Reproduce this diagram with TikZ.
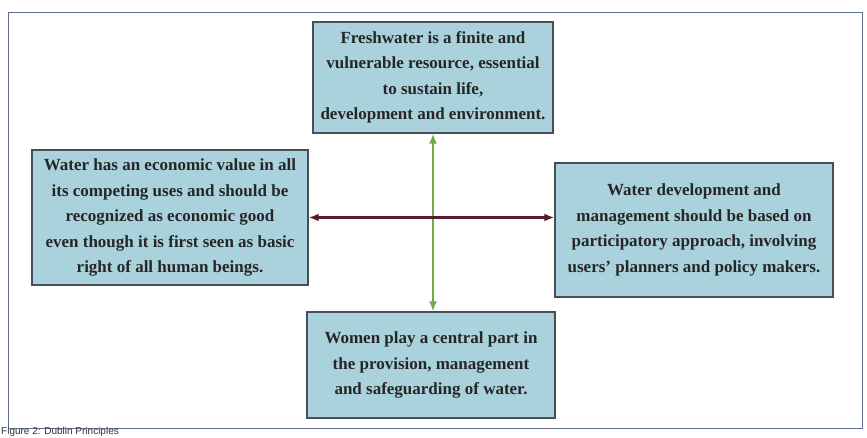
\documentclass[tikz,border=0pt]{standalone}
\usepackage{fontspec}
\setmainfont{Liberation Serif}
\setsansfont{Liberation Sans}
\usepackage{tikz}
\usetikzlibrary{arrows.meta,shapes}
\usetikzlibrary{calc}
\definecolor{boxblue}{RGB}{170,210,220}
\definecolor{boxline}{RGB}{70,78,88}
\definecolor{framecol}{RGB}{95,110,140}
\definecolor{redline}{RGB}{85,28,50}
\definecolor{greenline}{RGB}{110,170,70}
\tikzstyle{principle}=[rectangle,draw=boxline,fill=boxblue,line width=1.3pt,inner sep=0pt,align=center,text=black!85,font=\fontsize{17}{25.5}\selectfont\bfseries]
\tikzstyle{hedge} = [draw,line width=2.2pt,redline,{Latex[length=10pt,width=8pt]}-{Latex[length=10pt,width=8pt]}]
\tikzstyle{vedge} = [draw,line width=1.8pt,greenline,{Latex[length=10pt,width=8pt]}-{Latex[length=10pt,width=8pt]}]
\tikzstyle{caption} = [font=\fontsize{10}{11}\selectfont\sffamily,text=black!80,inner sep=0pt]

\begin{document}
\begin{tikzpicture}[x=1pt,y=-1pt]

  \useasboundingbox (0,0) rectangle (867,438);
  \fill[white] (0,0) rectangle (867,438);

  % outer frame
  \draw[framecol,line width=1pt] (8,13) rectangle (862,428);

   \foreach \x/\y/\w/\h/\name/\label in {
       433/77.5/240/111/fresh/{Freshwater is a finite and\\vulnerable resource, essential\\to sustain life,\\development and environment.},
       170/217.5/276/135/econ/{Water has an economic value in all\\its competing uses and should be\\recognized as economic good\\even though it is first seen as basic\\right of all human beings.},
       694/230/278/134/partic/{Water development and\\management should be based on\\participatory approach, involving\\users' planners and policy makers.},
       431/365/248/106/women/{Women play a central part in\\the provision, management\\and safeguarding of water.}}
          \node[principle, minimum width=\w, minimum height=\h] (\name) at (\x,\y) {\label};

  \path[vedge] (fresh.south) -- (fresh.south |- women.north);
  \path[hedge] (econ.east) -- (econ.east -| partic.west);

  \node[caption, anchor=south west] (cap) at (1,437) {Figure 2: Dublin Principles};

   \end{tikzpicture}
\end{document}
